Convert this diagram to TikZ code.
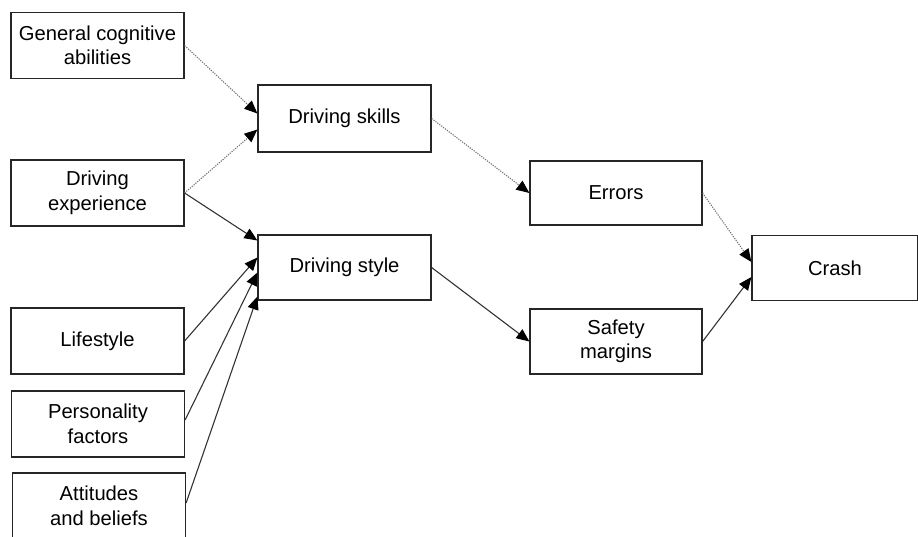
\documentclass[tikz,border=0pt]{standalone}
\usepackage{fontspec}
\setmainfont{Liberation Sans}
\usetikzlibrary{arrows.meta}
\begin{document}
\begin{tikzpicture}[x=1pt,y=-1pt,
  box/.style={draw=black!85, line width=1.2pt, rectangle, minimum width=173pt, minimum height=66pt, inner sep=0pt, align=center, font=\fontsize{20.2}{24.5}\selectfont},
  link/.style={draw=black!80, line width=1.1pt, -{Triangle[length=13pt,width=11pt,color=black]}},
  dotlink/.style={link, draw=black!55, dash pattern=on 1.2pt off 1.2pt}]
\useasboundingbox (0,0) rectangle (918,536);
\node[box] (gca) at (97.5,45.5) {General cognitive\\abilities};
\node[box] (exp) at (97.5,193) {Driving\\experience};
\node[box] (life) at (97.5,341) {Lifestyle};
\node[box] (pers) at (98,424) {Personality\\factors};
\node[box] (att) at (99,506) {Attitudes\\and beliefs};
\node[box, minimum height=67pt] (skills) at (344.5,118.5) {Driving skills};
\node[box, minimum height=65pt] (style) at (344.5,267.5) {Driving style};
\node[box, minimum width=172pt, minimum height=64pt] (err) at (616,193) {Errors};
\node[box, minimum width=172pt, minimum height=65pt] (safe) at (616,341.5) {Safety\\margins};
\node[box, minimum width=166pt, minimum height=65pt] (crash) at (835,268) {Crash};
\draw[dotlink] (gca.east) -- ([yshift=5pt]skills.west);
\draw[dotlink] (exp.east) -- ([yshift=-11pt]skills.west);
\draw[link] (exp.east) -- ([yshift=27pt]style.west);
\draw[link] (life.east) -- ([yshift=10pt]style.west);
\draw[link] ([yshift=4pt]pers.east) -- ([yshift=-5pt]style.west);
\draw[link] ([yshift=3pt]att.east) -- ([yshift=-29pt]style.west);
\draw[dotlink] (skills.east) -- (err.west);
\draw[link] (style.east) -- (safe.west);
\draw[dotlink] (err.east) -- ([yshift=6pt]crash.west);
\draw[link] (safe.east) -- ([yshift=-9pt]crash.west);
\end{tikzpicture}
\end{document}
